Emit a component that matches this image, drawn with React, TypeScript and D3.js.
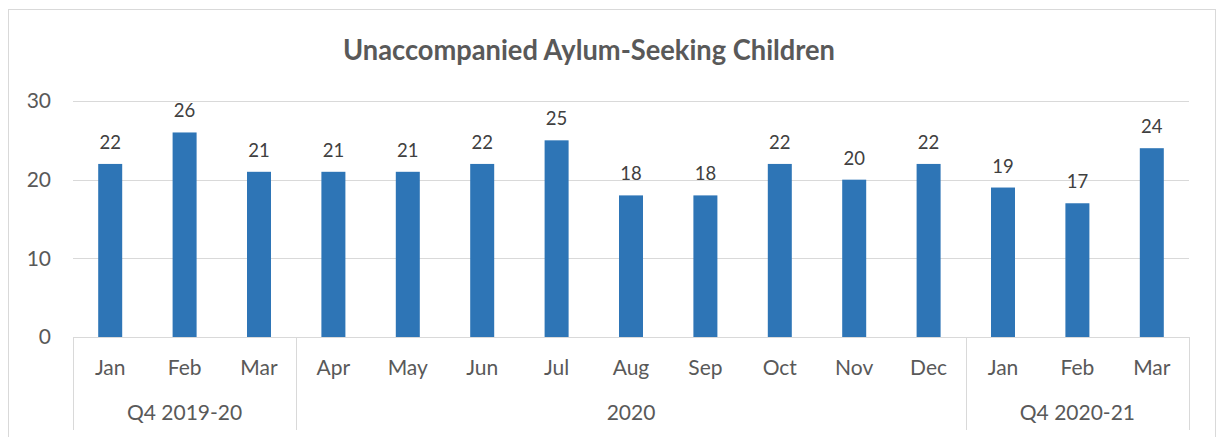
import React from "react";
import * as d3 from "d3";

const months = ["Jan", "Feb", "Mar", "Apr", "May", "Jun", "Jul", "Aug", "Sep", "Oct", "Nov", "Dec", "Jan", "Feb", "Mar"];
const values = [22, 26, 21, 21, 21, 22, 25, 18, 18, 22, 20, 22, 19, 17, 24];
const groups = [
  { label: "Q4 2019-20", start: 0, end: 3 },
  { label: "2020", start: 3, end: 12 },
  { label: "Q4 2020-21", start: 12, end: 15 },
];
const yTicks = [0, 10, 20, 30];
const title = "Unaccompanied Aylum-Seeking Children";

const W = 1223;
const H = 437;
const FONT = "Lato, 'Open Sans', sans-serif";

export default function App() {
  const left = 73;
  const right = 1189;
  const top = 101;
  const bottom = 337;
  const x = d3.scaleBand<number>().domain(d3.range(months.length)).range([left, right]).paddingInner(0).paddingOuter(0);
  const y = d3.scaleLinear().domain([0, 30]).range([bottom, top]);
  const bw = 24;
  const axisColor = "#d9d9d9";
  const textColor = "#595959";

  return (
    <svg width={W} height={H} style={{ position: "absolute", left: 0, top: 0, display: "block" }}>
      <rect x={0} y={0} width={W} height={H} fill="#fff" />
      <rect x={8.5} y={9.5} width={1207} height={440} fill="#fff" stroke={axisColor} strokeWidth={1} />
      <text x={589} y={60} textAnchor="middle" fontFamily={FONT} fontWeight={700} fontSize={28} fill={textColor} textLength={492} lengthAdjust="spacingAndGlyphs">
        {title}
      </text>
      {yTicks.map((t) => (
        <g key={t}>
          {t > 0 && <line x1={left} x2={right} y1={Math.round(y(t)) + 0.5} y2={Math.round(y(t)) + 0.5} stroke={axisColor} strokeWidth={1} />}
          <text x={51} y={y(t)} dy="0.35em" textAnchor="end" fontFamily={FONT} fontSize={21} fill={textColor}>
            {t}
          </text>
        </g>
      ))}
      {values.map((v, i) => {
        const cx = (x(i) as number) + x.bandwidth() / 2;
        return (
          <g key={i}>
            <rect x={cx - bw / 2} y={y(v)} width={bw} height={bottom - y(v)} fill="#2E75B6" />
            <text x={cx} y={y(v) - 15} textAnchor="middle" fontFamily={FONT} fontSize={18.5} fill="#404040">
              {v}
            </text>
            <text x={cx} y={368} dy="0.35em" textAnchor="middle" fontFamily={FONT} fontSize={21} fill={textColor}>
              {months[i]}
            </text>
          </g>
        );
      })}
      <line x1={left} x2={right} y1={bottom + 0.5} y2={bottom + 0.5} stroke={axisColor} strokeWidth={1} />
      {groups.map((g, gi) => {
        const x0 = x(g.start) as number;
        const x1 = g.end >= months.length ? right : (x(g.end) as number);
        return (
          <g key={gi}>
            <text x={(x0 + x1) / 2} y={413} dy="0.35em" textAnchor="middle" fontFamily={FONT} fontSize={21} fill={textColor}>
              {g.label}
            </text>
          </g>
        );
      })}
      {[0, 3, 12, 15].map((k) => {
        const xx = k >= months.length ? right : (x(k) as number);
        return <line key={k} x1={Math.round(xx) + 0.5} x2={Math.round(xx) + 0.5} y1={bottom} y2={430} stroke={axisColor} strokeWidth={1} />;
      })}
    </svg>
  );
}
